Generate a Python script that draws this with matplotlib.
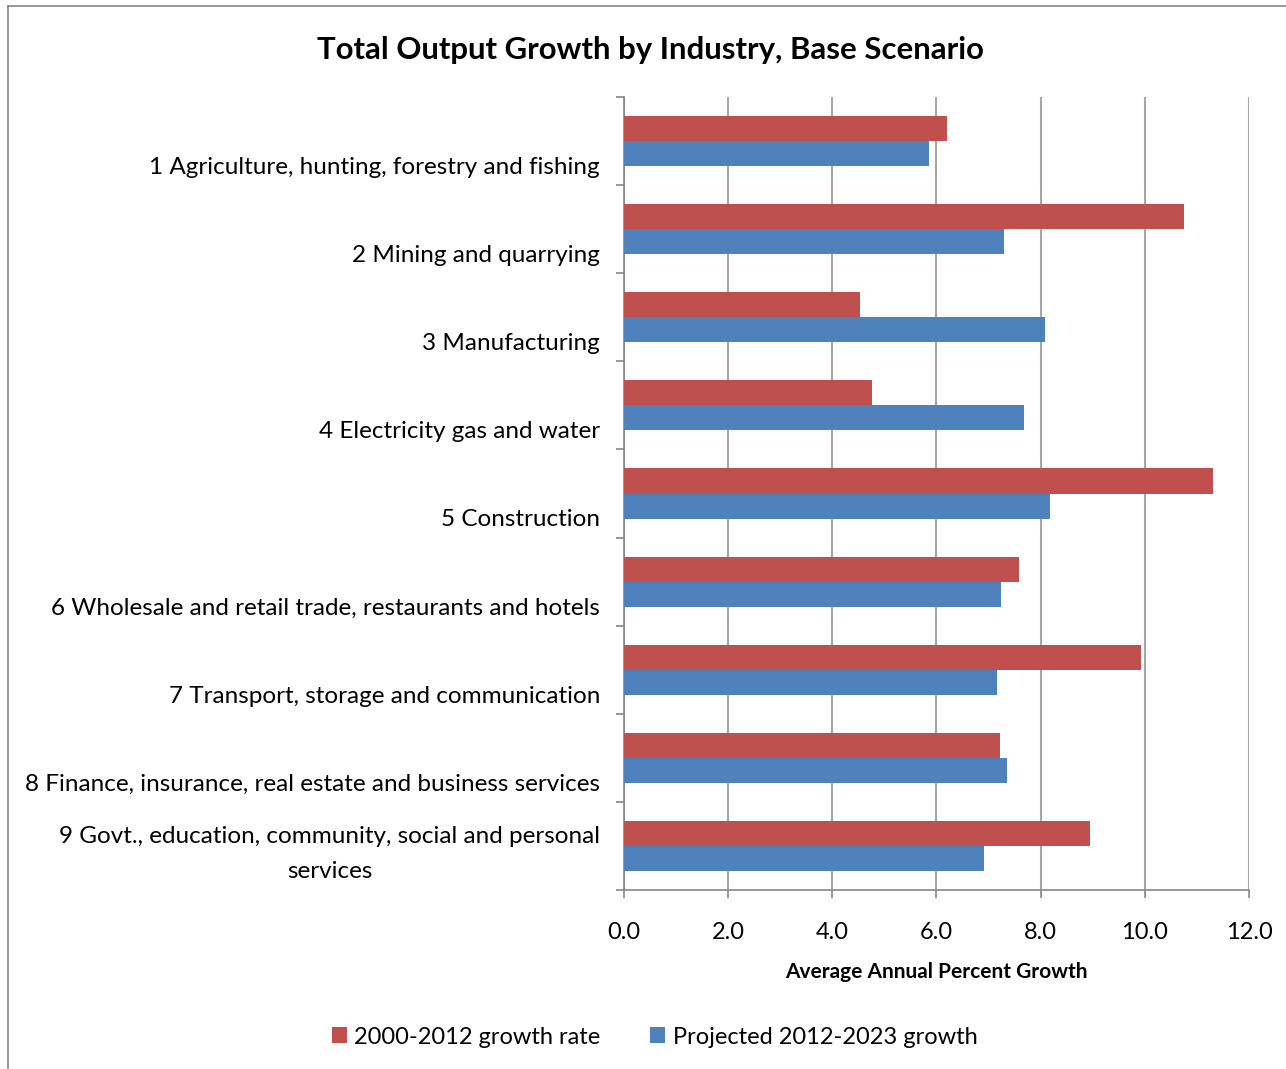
import matplotlib
matplotlib.use("Agg")
import matplotlib.pyplot as plt
import matplotlib.transforms as mtransforms
from matplotlib.lines import Line2D
import numpy as np

plt.rcParams["font.family"] = ["Lato", "DejaVu Sans"]

industries = [
    "1 Agriculture, hunting, forestry and fishing",
    "2 Mining and quarrying",
    "3 Manufacturing",
    "4 Electricity gas and water",
    "5 Construction",
    "6 Wholesale and retail trade, restaurants and hotels",
    "7 Transport, storage and communication",
    "8 Finance, insurance, real estate and business services",
    "9 Govt., education, community, social and personal\nservices",
]
growth_2000_2012 = [6.20, 10.75, 4.53, 4.76, 11.31, 7.58, 9.93, 7.22, 8.95]
projected_2012_2023 = [5.86, 7.30, 8.08, 7.68, 8.18, 7.24, 7.16, 7.35, 6.91]
xticks = [0, 2, 4, 6, 8, 10, 12]

red = "#C0504D"
blue = "#4F81BD"
grid_gray = "#A6A6A6"
axis_gray = "#868686"

fig = plt.figure(figsize=(12.86, 10.69), dpi=100)
ax = fig.add_axes([0.4852, 0.1674, 0.4860, 0.7419])

y = np.arange(len(industries))
h = 0.284
ax.barh(y - h / 2, growth_2000_2012, height=h, color=red, label="2000-2012 growth rate", zorder=3)
ax.barh(y + h / 2, projected_2012_2023, height=h, color=blue, label="Projected 2012-2023 growth", zorder=3)

ax.set_xlim(0, 12)
ax.set_ylim(len(industries) - 0.5, -0.5)
ax.set_xticks(xticks)
ax.set_xticklabels([f"{v:.1f}" for v in xticks], fontsize=17)
ax.xaxis.grid(True, color=grid_gray, linewidth=1.5, zorder=0)

# category boundaries carry the y tick marks, labels placed separately
ax.set_yticks(np.arange(len(industries) + 1) - 0.5)
ax.set_yticklabels([])
ax.tick_params(axis="y", direction="out", length=6, width=1.2, color=axis_gray)
ax.tick_params(axis="x", direction="out", length=6, width=1.2, color=axis_gray, pad=17)

for side in ["top", "right"]:
    ax.spines[side].set_visible(False)
for side in ["left", "bottom"]:
    ax.spines[side].set_color(axis_gray)
    ax.spines[side].set_linewidth(1.2)

trans = mtransforms.blended_transform_factory(ax.transAxes, ax.transData)
for i, name in enumerate(industries):
    off = 0.09 if "\n" in name else 0.30
    ax.text(-0.0384, i + off, name, transform=trans, ha="right", va="center",
            multialignment="center", fontsize=17.5, linespacing=1.8)

ax.set_xlabel("Average Annual Percent Growth", fontsize=15, fontweight="bold", labelpad=14)

fig.text(0.5058, 0.953, "Total Output Growth by Industry, Base Scenario",
         ha="center", va="center", fontsize=22.4, fontweight="bold")

fig.legend(loc="center", bbox_to_anchor=(0.509, 0.0299), ncol=2, frameon=False,
           fontsize=17, handlelength=0.65, handleheight=0.65, handletextpad=0.3,
           columnspacing=2.1)

# outer chart frame
fig.add_artist(Line2D([0.0062, 0.0062], [0.0, 0.9944], color=axis_gray, linewidth=1.2))
fig.add_artist(Line2D([0.0062, 1.0], [0.9944, 0.9944], color=axis_gray, linewidth=1.2))

fig.savefig("out.png", dpi=100)
